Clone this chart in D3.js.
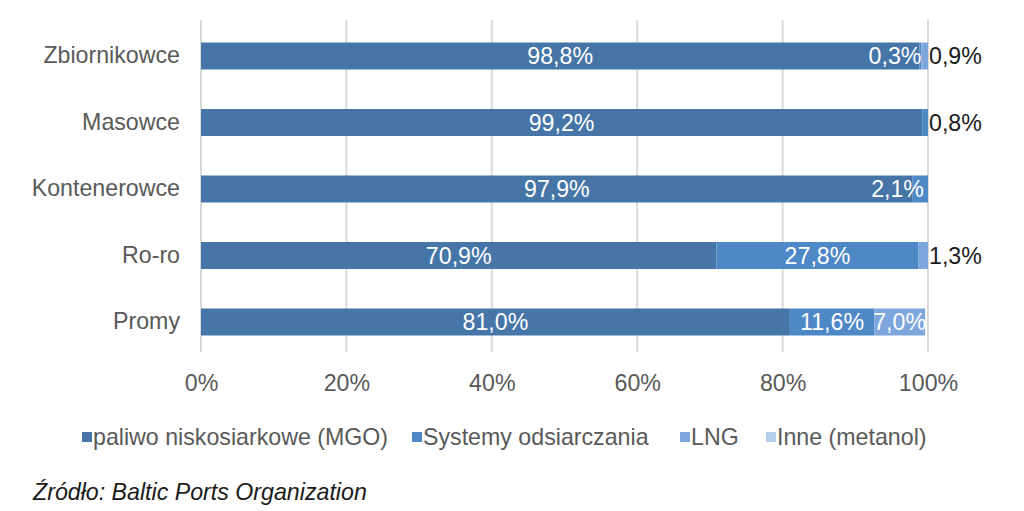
<!DOCTYPE html>
<html><head><meta charset="utf-8">
<script src="https://cdn.jsdelivr.net/npm/d3@7"></script>
<style>
body{margin:0;background:#fff;}
svg{display:block;font-family:"Liberation Sans",Arial,sans-serif;}
</style></head>
<body>
<svg id="chart" width="1024" height="511"></svg>
<script>
const categories = ["Zbiornikowce","Masowce","Kontenerowce","Ro-ro","Promy"];
const seriesNames = ["paliwo niskosiarkowe (MGO)","Systemy odsiarczania","LNG","Inne (metanol)"];
const mgo     = [98.8, 99.2, 97.9, 70.9, 81.0];
const systemy = [0.3, 0.8, 2.1, 27.8, 11.6];
const lng     = [0.9, 0, 0, 1.3, 7.0];
const inne    = [0, 0, 0, 0, 0];
const tickValues = [0,20,40,60,80,100];
const sourceText = "Źródło: Baltic Ports Organization";

const colors = ["#4676a8","#4e88c6","#7ca6dc","#b5cdea"];
const seriesVals = [mgo, systemy, lng, inne];
const FS = 23.2;

const svg = d3.select("#chart");
const x = d3.scaleLinear().domain([0,100]).range([201,928]);
const y = d3.scaleBand().domain(categories).range([22.75,355.25]).paddingInner(0.594).paddingOuter(0.297);

// gridlines
svg.append("g").selectAll("line").data(tickValues).join("line")
  .attr("x1",d=>x(d)).attr("x2",d=>x(d)).attr("y1",20).attr("y2",352)
  .attr("stroke","#d9d9d9").attr("stroke-width",2);

// x axis labels
const xAxis = d3.axisBottom(x).tickValues(tickValues).tickSize(0).tickPadding(0).tickFormat(d=>d+"%");
const gx = svg.append("g").attr("transform","translate(0,383)").call(xAxis);
gx.select(".domain").remove();
gx.selectAll("text").attr("font-size",FS).attr("fill","#595959").attr("dy","0.35em")
  .attr("font-family","Liberation Sans, Arial, sans-serif");

// y axis labels
const yAxis = d3.axisLeft(y).tickSize(0).tickPadding(0);
const gy = svg.append("g").attr("transform","translate(180,0)").call(yAxis);
gy.select(".domain").remove();
gy.selectAll("text").attr("font-size",FS).attr("fill","#595959").attr("font-family","Liberation Sans, Arial, sans-serif");

// stacked segments
const rows = categories.map((c,i)=>{
  let acc=0;
  return seriesVals.map((arr,s)=>{const v=arr[i]; const seg={cat:c,s,v,x0:acc,x1:acc+v}; acc+=v; return seg;});
});
const barsG = svg.append("g");
const labelsG = svg.append("g").attr("font-size",FS);
rows.forEach((segs,i)=>{
  const c = categories[i];
  const nz = segs.filter(d=>d.v>0);
  const lastS = nz[nz.length-1].s;
  barsG.selectAll(null).data(nz).join("rect")
    .attr("x",d=>x(d.x0)).attr("width",d=>x(d.x1)-x(d.x0))
    .attr("y",y(c)).attr("height",y.bandwidth())
    .attr("fill",d=>colors[d.s]);
  nz.forEach(d=>{
    const txt = d.v.toFixed(1).replace(".",",")+"%";
    const w = x(d.x1)-x(d.x0);
    let tx, anchor, fill="#fff";
    if (w > 48) { tx = (x(d.x0)+x(d.x1))/2; anchor="middle"; }
    else if (d.v < 2 && d.s===lastS) { tx = x(100)+1; anchor="start"; fill="#1a1a1a"; }
    else if (d.v < 2) { tx = x(d.x1); anchor="end"; }
    else { tx = x(d.x1)-4; anchor="end"; }
    labelsG.append("text").attr("x",tx).attr("y",y(c)+y.bandwidth()/2)
      .attr("dy","0.35em").attr("text-anchor",anchor).attr("fill",fill).text(txt);
  });
});

// legend
const legendX = [82, 412, 680, 766];
const lg = svg.append("g").attr("font-size",FS);
seriesNames.forEach((n,i)=>{
  lg.append("rect").attr("x",legendX[i]).attr("y",432).attr("width",10).attr("height",10).attr("fill",colors[i]);
  lg.append("text").attr("x",legendX[i]+11).attr("y",437).attr("dy","0.35em").attr("fill","#595959").text(n);
});

// source
svg.append("text").attr("x",33).attr("y",500).attr("font-size",FS).attr("font-style","italic")
  .attr("fill","#1a1a1a").text(sourceText);
</script>
</body></html>
